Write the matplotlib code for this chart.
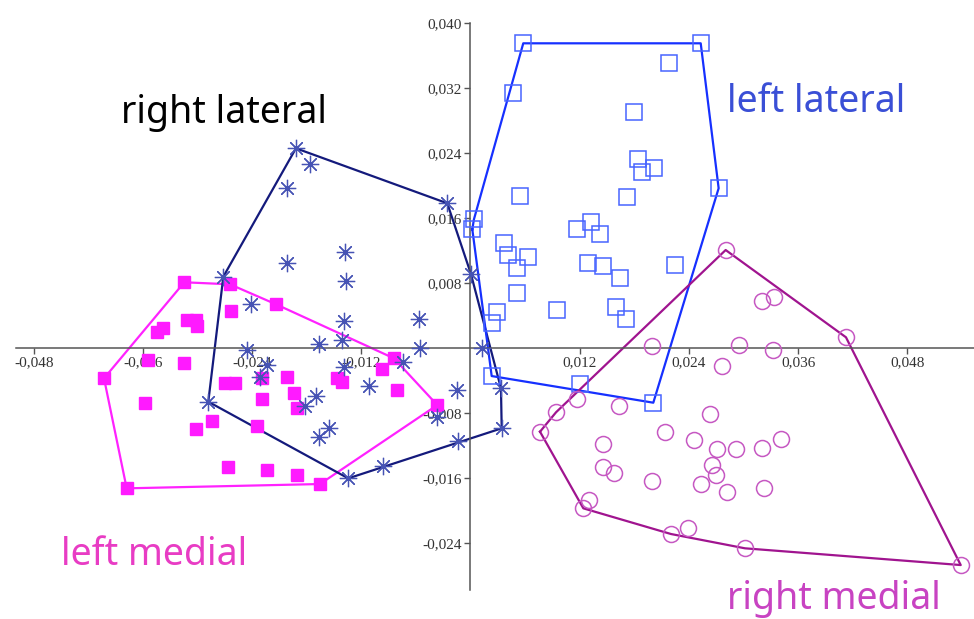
import numpy as np
import matplotlib
matplotlib.use("Agg")
import matplotlib.pyplot as plt

# --- group scores (PC1, PC2) ---
right_lateral_x = [-0.01918, -0.01764, -0.02013, -0.00255, -0.01379, -0.02020, -0.01371, -0.02716,
                   0.00005, -0.02415, -0.00563, -0.01390, -0.01662, -0.01415, -0.00555, -0.02459,
                   -0.00738, -0.02240, -0.01390, -0.02313, -0.01112, -0.00152, -0.01698, -0.01819,
                   -0.02881, -0.00371, -0.01552, -0.01668, -0.00134, -0.00958, -0.01343, 0.00123,
                   0.00335, 0.00343]
right_lateral_y = [0.02458, 0.02261, 0.01973, 0.01781, 0.01185, 0.01050, 0.00828, 0.00878,
                   0.00911, 0.00542, 0.00357, 0.00332, 0.00046, 0.00098, -0.00004, -0.00025,
                   -0.00176, -0.00209, -0.00230, -0.00353, -0.00468, -0.00517, -0.00591, -0.00714,
                   -0.00661, -0.00846, -0.00981, -0.01099, -0.01141, -0.01449, -0.01604, -0.00004,
                   -0.00496, -0.00988]

left_medial_x = [-0.03145, -0.02643, -0.02635, -0.02137, -0.03119, -0.03016, -0.03002, -0.03376,
                 -0.03448, -0.03145, -0.03541, -0.04027, -0.02698, -0.02588, -0.02295, -0.02013,
                 -0.01464, -0.01415, -0.00976, -0.00841, -0.00811, -0.01940, -0.01910, -0.02295,
                 -0.03577, -0.00365, -0.02844, -0.03016, -0.02350, -0.02662, -0.02240, -0.01903,
                 -0.01654, -0.03778]
left_medial_y = [0.00809, 0.00784, 0.00459, 0.00538, 0.00345, 0.00345, 0.00274, 0.00242,
                 0.00193, -0.00188, -0.00148, -0.00373, -0.00434, -0.00434, -0.00373, -0.00353,
                 -0.00373, -0.00415, -0.00262, -0.00127, -0.00517, -0.00558, -0.00742, -0.00631,
                 -0.00673, -0.00702, -0.00898, -0.01001, -0.00960, -0.01468, -0.01502, -0.01563,
                 -0.01674, -0.01727]

left_lateral_x = [0.00580, 0.02530, 0.02185, 0.00470, 0.01797, 0.01844, 0.02020, 0.01881,
                  0.02727, 0.01723, 0.00544, 0.00038, 0.00020, 0.01167, 0.01324, 0.01423,
                  0.00371, 0.00415, 0.00635, 0.00514, 0.01288, 0.01459, 0.01643, 0.02247,
                  0.00514, 0.00947, 0.01599, 0.01709, 0.00295, 0.00233, 0.00233, 0.01203,
                  0.02009]
left_lateral_y = [0.03750, 0.03750, 0.03504, 0.03142, 0.02901, 0.02326, 0.02219, 0.02162,
                  0.01966, 0.01862, 0.01874, 0.01584, 0.01461, 0.01461, 0.01554, 0.01399,
                  0.01289, 0.01145, 0.01124, 0.00981, 0.01042, 0.01009, 0.00858, 0.01022,
                  0.00681, 0.00468, 0.00508, 0.00357, 0.00439, 0.00304, -0.00345, -0.00447,
                  -0.00673]

right_medial_x = [0.02804, 0.03207, 0.03338, 0.04126, 0.02954, 0.03324, 0.01998, 0.02760,
                  0.01167, 0.01635, 0.00940, 0.00764, 0.02632, 0.02141, 0.02456, 0.01453,
                  0.02712, 0.02918, 0.03200, 0.03412, 0.01453, 0.01580, 0.02657, 0.02695,
                  0.01998, 0.02530, 0.02822, 0.03222, 0.01305, 0.01240, 0.02203, 0.02387,
                  0.03016, 0.05387]
right_medial_y = [0.01206, 0.00578, 0.00631, 0.00132, 0.00037, -0.00025, 0.00025, -0.00222,
                  -0.00631, -0.00714, -0.00791, -0.01030, -0.00816, -0.01038, -0.01132, -0.01185,
                  -0.01243, -0.01243, -0.01227, -0.01120, -0.01468, -0.01542, -0.01440, -0.01563,
                  -0.01633, -0.01678, -0.01769, -0.01719, -0.01871, -0.01973, -0.02289, -0.02219,
                  -0.02465, -0.02671]

x_ticks = [-0.048, -0.036, -0.024, -0.012, 0.012, 0.024, 0.036, 0.048]
x_tick_labels = ["-0,048", "-0,036", "-0,024", "-0,012", "0,012", "0,024", "0,036", "0,048"]
y_ticks = [-0.024, -0.016, -0.008, 0.008, 0.016, 0.024, 0.032, 0.040]
y_tick_labels = ["-0,024", "-0,016", "-0,008", "0,008", "0,016", "0,024", "0,032", "0,040"]


def convex_hull(xs, ys):
    pts = sorted(set(zip(xs, ys)))

    def cross(o, a, b):
        return (a[0] - o[0]) * (b[1] - o[1]) - (a[1] - o[1]) * (b[0] - o[0])

    lower, upper = [], []
    for p in pts:
        while len(lower) >= 2 and cross(lower[-2], lower[-1], p) <= 0:
            lower.pop()
        lower.append(p)
    for p in reversed(pts):
        while len(upper) >= 2 and cross(upper[-2], upper[-1], p) <= 0:
            upper.pop()
        upper.append(p)
    hull = lower[:-1] + upper[:-1]
    hull.append(hull[0])
    return np.array(hull)


fig = plt.figure(figsize=(9.74, 6.19), dpi=100)
ax = fig.add_axes([0, 0, 1, 1])
ax.set_xlim(-0.05170, 0.05533)
ax.set_ylim(-0.03335, 0.04283)

groups = [
    # x, y, marker, marker face, marker edge, line colour, size, edge width
    (left_medial_x, left_medial_y, "s", "#ff1aff", "#ff1aff", "#ff22ff", 9.0, 1.0),
    (right_lateral_x, right_lateral_y, (8, 2, 0), "none", "#4653b4", "#141a7c", 12.5, 0.9),
    (left_lateral_x, left_lateral_y, "s", "none", "#4864ff", "#1630ff", 11.5, 1.1),
    (right_medial_x, right_medial_y, "o", "none", "#c658c2", "#a0148f", 11.5, 1.1),
]
for gx, gy, mk, mfc, mec, lc, ms, mew in groups:
    hull = convex_hull(gx, gy)
    ax.plot(hull[:, 0], hull[:, 1], color=lc, lw=1.6, zorder=2)
    ax.plot(gx, gy, ls="none", marker=mk, ms=ms, mfc=mfc, mec=mec, mew=mew, zorder=3)

# axes crossing at the origin
for side in ("top", "right"):
    ax.spines[side].set_visible(False)
for side in ("left", "bottom"):
    ax.spines[side].set_position(("data", 0))
    ax.spines[side].set_color("#555555")
    ax.spines[side].set_linewidth(1.1)
ax.spines["left"].set_bounds(-0.0298, 0.040)
ax.spines["bottom"].set_bounds(-0.0499, 0.0553)

tick_font = {"family": "Liberation Serif", "size": 11}
ax.set_xticks(x_ticks)
ax.set_xticklabels(x_tick_labels, fontdict=tick_font, color="#333333")
ax.set_yticks(y_ticks)
ax.set_yticklabels(y_tick_labels, fontdict=tick_font, color="#333333")
ax.tick_params(axis="both", direction="out", length=4, width=1.0, color="#555555", pad=2)
ax.set_facecolor("white")

label_font = "Noto Sans"
fig.text(121 / 974, 1 - 123 / 619, "right lateral", color="black", fontsize=27,
         family=label_font, va="baseline", ha="left")
fig.text(727 / 974, 1 - 112.5 / 619, "left lateral", color="#3a4fd6", fontsize=27,
         family=label_font, va="baseline", ha="left")
fig.text(61 / 974, 1 - 565 / 619, "left medial", color="#e83cc4", fontsize=27,
         family=label_font, va="baseline", ha="left")
fig.text(727 / 974, 1 - 609 / 619, "right medial", color="#c843c2", fontsize=27,
         family=label_font, va="baseline", ha="left")

fig.savefig("out.png", dpi=100, facecolor="white")
